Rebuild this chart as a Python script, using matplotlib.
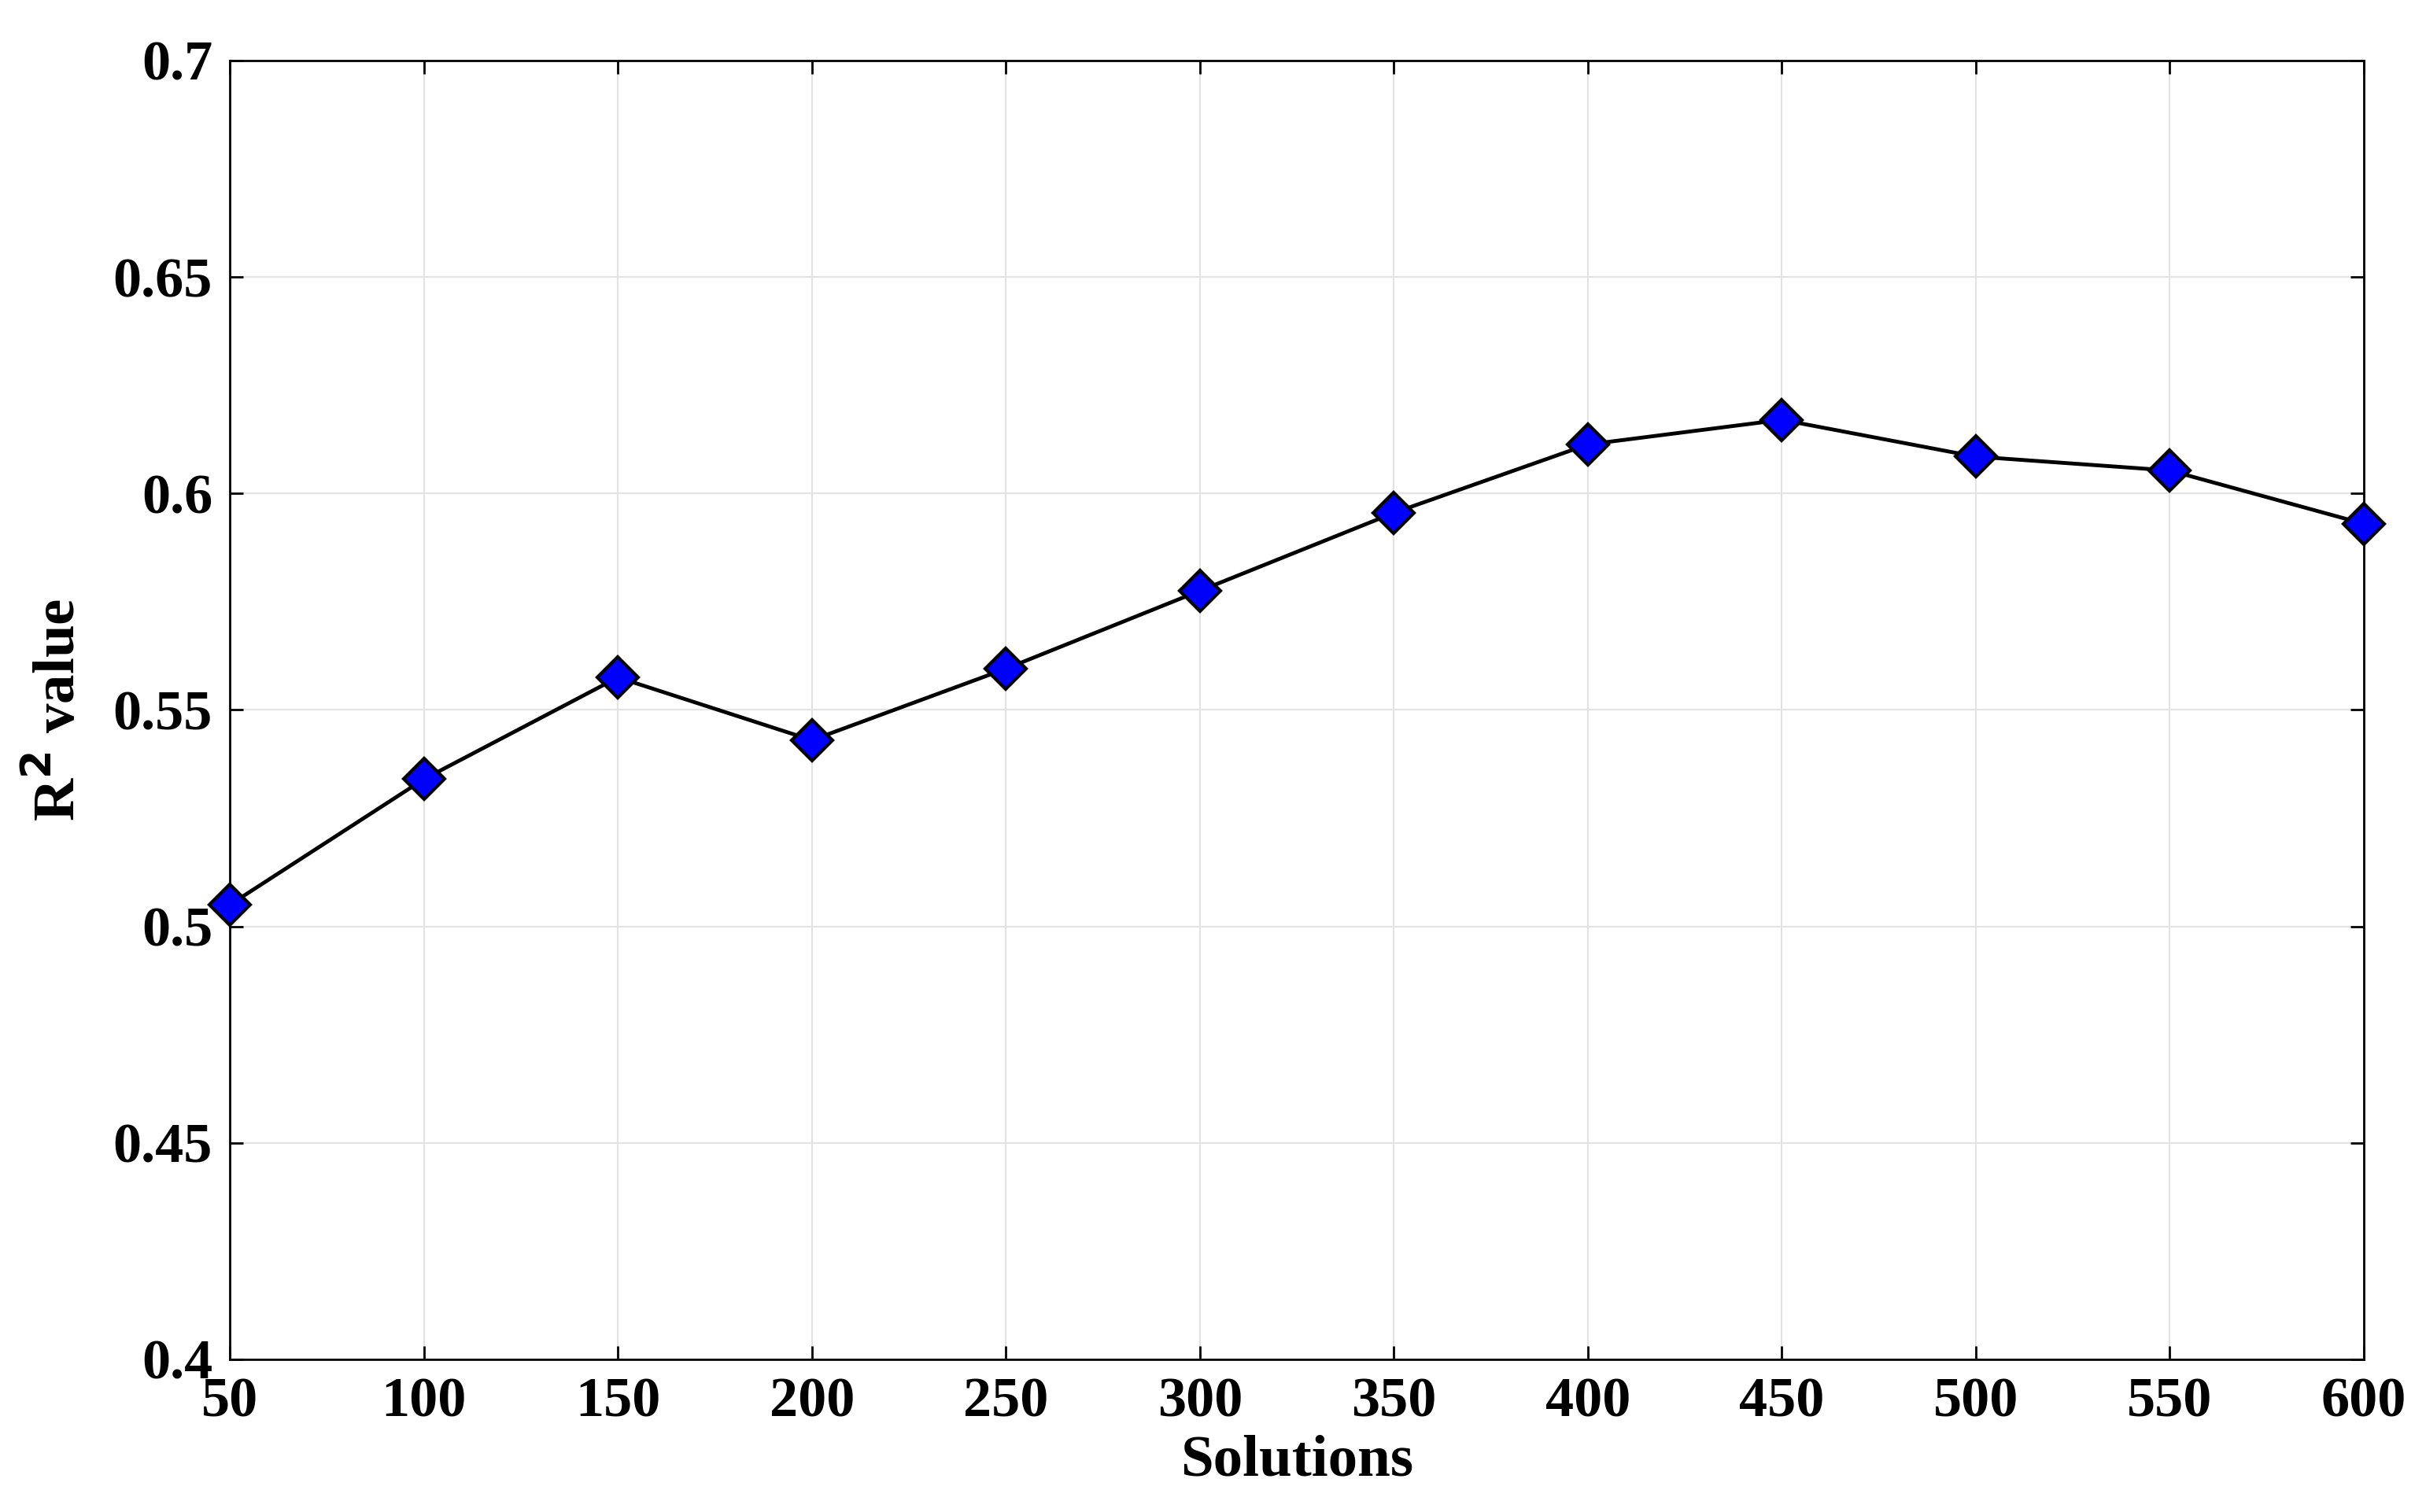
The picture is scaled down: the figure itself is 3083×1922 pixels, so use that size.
import matplotlib
matplotlib.use("Agg")
import matplotlib.pyplot as plt

solutions = [50, 100, 150, 200, 250, 300, 350, 400, 450, 500, 550, 600]
r2_values = [0.505, 0.534, 0.5575, 0.543, 0.5595, 0.5775, 0.5955, 0.6113, 0.617, 0.6085, 0.6053, 0.593]
x_ticks = [50, 100, 150, 200, 250, 300, 350, 400, 450, 500, 550, 600]
y_ticks = [0.4, 0.45, 0.5, 0.55, 0.6, 0.65, 0.7]
y_tick_labels = ["0.4", "0.45", "0.5", "0.55", "0.6", "0.65", "0.7"]

plt.rcParams['font.family'] = ['Liberation Serif', 'DejaVu Serif']
plt.rcParams['font.weight'] = 'bold'

fig = plt.figure(figsize=(30.83, 19.22), dpi=100)
ax = fig.add_axes([0.0948, 0.101, 0.8795, 0.859])
ax.plot(solutions, r2_values, color='black', lw=3.5, marker='D', markersize=26,
        markerfacecolor='#0000ff', markeredgecolor='black', markeredgewidth=3,
        zorder=3, clip_on=False)
ax.set_xlim(50, 600)
ax.set_ylim(0.4, 0.7)
ax.set_xticks(x_ticks)
ax.set_yticks(y_ticks)
ax.set_yticklabels(y_tick_labels)
ax.grid(True, color='#e3e3e3', lw=1.5)
ax.tick_params(labelsize=52, width=2, length=12, direction='in', top=True, right=True, pad=16)
for s in ax.spines.values():
    s.set_linewidth(2)
ax.set_xlabel("Solutions", fontsize=54, fontweight='bold', labelpad=6)
ax.set_ylabel("R$^\\mathbf{2}$ value", fontsize=54, fontweight='bold', labelpad=24)
fig.savefig("out.png", dpi=100)
